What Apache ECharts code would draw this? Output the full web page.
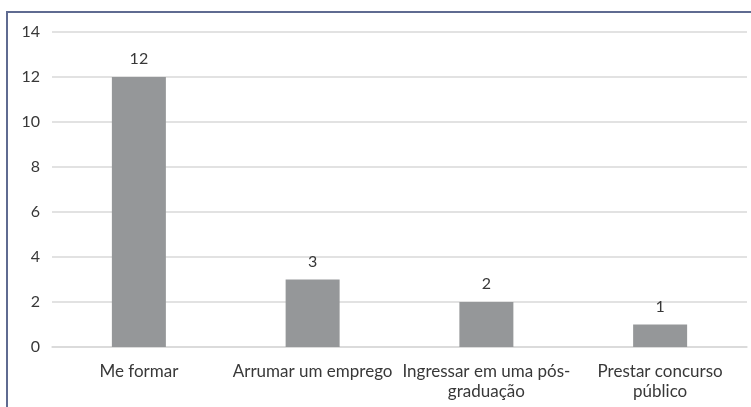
<!DOCTYPE html>
<html>
<head>
<meta charset="utf-8">
<script src="https://cdn.jsdelivr.net/npm/echarts@6/dist/echarts.min.js"></script>
<style>
  html, body { margin: 0; padding: 0; background: #fff; }
  #chart { width: 751px; height: 407px; }
</style>
</head>
<body>
<div id="chart"></div>
<script>
// dados do grafico
const categorias = ['Me formar', 'Arrumar um emprego', 'Ingressar em uma pós-\ngraduação', 'Prestar concurso\npúblico'];
const valores = [12, 3, 2, 1];
const ticksY = [0, 14, 2];

const fonte = 'Lato';
let myChart = echarts.init(document.getElementById('chart'));
let options = {
  animation: false,
  backgroundColor: '#ffffff',
  graphic: [{
    type: 'rect',
    shape: { x: 7, y: 12, width: 800, height: 500 },
    style: { fill: 'none', stroke: '#5f6b91', lineWidth: 2 }
  }],
  grid: { left: 52, right: 4, top: 32, bottom: 60 },
  xAxis: {
    type: 'category',
    data: categorias,
    axisLine: { lineStyle: { color: '#d9d9d9', width: 1.5 } },
    axisTick: { show: false },
    axisLabel: { color: '#383838', fontFamily: fonte, fontSize: 17, margin: 15, lineHeight: 20, interval: 0 }
  },
  yAxis: {
    type: 'value',
    min: ticksY[0],
    max: ticksY[1],
    interval: ticksY[2],
    axisLine: { show: false },
    axisTick: { show: false },
    splitLine: { lineStyle: { color: '#d9d9d9', width: 1.5 } },
    axisLabel: { color: '#383838', fontFamily: fonte, fontSize: 16, margin: 12 }
  },
  series: [{
    type: 'bar',
    data: valores,
    barWidth: 54,
    itemStyle: { color: '#959799' },
    label: { show: true, position: 'top', distance: 10, color: '#383838', fontFamily: fonte, fontSize: 16 }
  }]
};
myChart.setOption(options);
window.addEventListener('resize', () => { myChart.resize(); });
</script>
</body>
</html>
